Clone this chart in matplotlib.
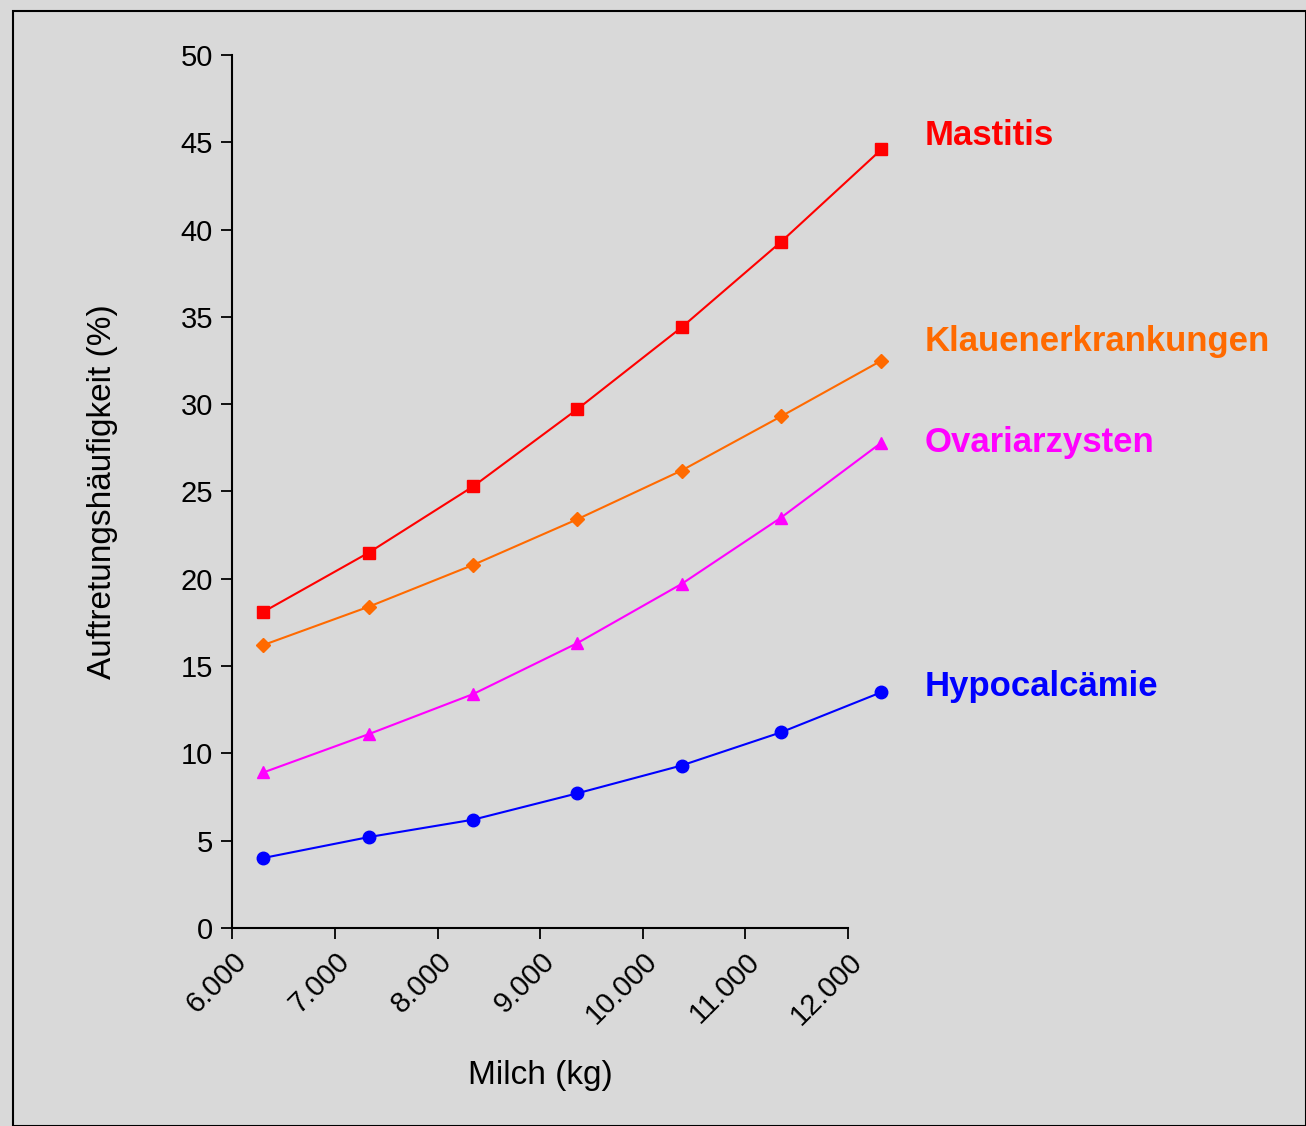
import matplotlib.pyplot as plt
from matplotlib.patches import Rectangle

milch = [6300, 7330, 8350, 9360, 10380, 11350, 12330]
mastitis = [18.1, 21.5, 25.3, 29.7, 34.4, 39.3, 44.6]
klauen = [16.2, 18.4, 20.8, 23.4, 26.2, 29.3, 32.5]
ovar = [8.9, 11.1, 13.4, 16.3, 19.7, 23.5, 27.8]
hypo = [4.0, 5.2, 6.2, 7.7, 9.3, 11.2, 13.5]

series = [
    ("Mastitis", mastitis, "#ff0000", "s", 9, 45.4),
    ("Klauenerkrankungen", klauen, "#ff6a00", "D", 7, 33.6),
    ("Ovariarzysten", ovar, "#ff00ff", "^", 9, 27.8),
    ("Hypocalcämie", hypo, "#0000ff", "o", 9, 13.8),
]

plt.rcParams["font.family"] = ["Liberation Sans", "DejaVu Sans"]
fig = plt.figure(figsize=(13.06, 11.26), dpi=100, facecolor="#d9d9d9")
fig.patches.append(Rectangle((0.01, 0.0), 0.99, 0.99, transform=fig.transFigure,
                             fill=False, edgecolor="black", lw=1.5))
ax = fig.add_axes([0.178, 0.176, 0.471, 0.775])
ax.set_facecolor("#d9d9d9")

for name, vals, color, marker, ms, ylab in series:
    ax.plot(milch, vals, color=color, marker=marker, ms=ms, lw=1.5, clip_on=False)
    ax.text(12750, ylab, name, color=color, fontsize=25, fontweight="bold",
            va="center", ha="left")

ax.set_xlim(6000, 12000)
ax.set_ylim(0, 50)
ax.set_xticks(range(6000, 12001, 1000))
ax.set_xticklabels([f"{v // 1000}.000" for v in range(6000, 12001, 1000)],
                   rotation=45, ha="right", rotation_mode="anchor")
ax.set_yticks(range(0, 51, 5))
ax.tick_params(direction="out", labelsize=21, length=8, width=1.3, pad=6)
for s in ("top", "right"):
    ax.spines[s].set_visible(False)
for s in ("left", "bottom"):
    ax.spines[s].set_linewidth(1.5)
ax.set_xlabel("Milch (kg)", fontsize=24, labelpad=22)
ax.set_ylabel("Auftretungshäufigkeit (%)", fontsize=24, labelpad=45)

fig.savefig("out.png", dpi=100, facecolor=fig.get_facecolor())
